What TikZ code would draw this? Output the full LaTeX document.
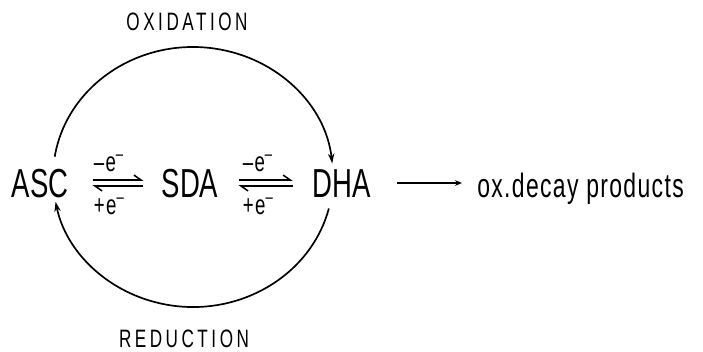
\documentclass[tikz,border=0pt]{standalone}
\usepackage{fontspec}
\setmainfont{Liberation Sans}
\newfontfamily\diafont{Liberation Sans}[FakeStretch=0.68]
\usetikzlibrary{arrows.meta,calc}
\tikzset{
    cpd/.style={
        font=\diafont\fontsize{28.8}{30}\selectfont,
        inner sep=0pt,
        anchor=base
    },
    elec/.style={
        font=\diafont\addfontfeatures{LetterSpace=5}\fontsize{19.5}{21}\selectfont,
        inner sep=0pt,
        anchor=base west
    },
    proc/.style={
        font=\diafont\addfontfeatures{LetterSpace=14}\fontsize{17.9}{19}\selectfont,
        inner sep=0pt
    },
    prod/.style={
        font=\diafont\addfontfeatures{LetterSpace=4}\fontsize{24}{26}\selectfont,
        inner sep=0pt,
        anchor=base west
    },
    eqarr/.style={-{Straight Barb[harpoon,length=5pt,width=7pt]},line width=1.1pt},
    cyc/.style={-{Stealth[length=7pt,width=4.5pt]},line width=1.2pt},
    outarr/.style={-{Stealth[length=5pt,width=4pt]},line width=1.2pt}
}
\begin{document}
\begin{tikzpicture}[x=0.025cm,y=0.025cm]
\useasboundingbox (0,0) rectangle (703,-351);

\node[cpd] (asc) at (40,-197) {ASC};
\node[cpd] (sda) at (190,-197) {SDA};
\node[cpd] (dha) at (342,-197) {DHA};
\node[prod] (decay) at (477,-197) {ox.decay products};

\node[proc] (oxi) at (187,-22) {OXIDATION};
\node[proc] (red) at (184,-339) {REDUCTION};

% ASC <=> SDA
\draw[eqarr] ($(asc.base east)+(24,17)$) -- ($(sda.base west)+(-18,17)$);
\draw[eqarr] ($(sda.base west)+(-18,11)$) -- ($(asc.base east)+(24,11)$);
\node[elec] (lose1) at ($(asc.base east)+(25,26)$) {–e\textsuperscript{–}};
\node[elec] (gain1) at ($(asc.base east)+(25,-17)$) {+e\textsuperscript{–}};

% SDA <=> DHA
\draw[eqarr] ($(sda.base east)+(20,17)$) -- ($(dha.base west)+(-20,17)$);
\draw[eqarr] ($(dha.base west)+(-20,11)$) -- ($(sda.base east)+(20,11)$);
\node[elec] (lose2) at ($(sda.base east)+(24,26)$) {–e\textsuperscript{–}};
\node[elec] (gain2) at ($(sda.base east)+(24,-17)$) {+e\textsuperscript{–}};

\draw[outarr] ($(dha.base east)+(26,14)$) -- ($(decay.base west)+(-15,14)$);

% oxidation / reduction cycle
\coordinate (ctr) at (193,-177);
\draw[cyc] ($(ctr)+(171:140 and 130)$) arc[start angle=171,end angle=6,x radius=140,y radius=130];
\draw[cyc] ($(ctr)+(-14:140 and 130)$) arc[start angle=-14,end angle=-169,x radius=140,y radius=130];
\end{tikzpicture}
\end{document}
